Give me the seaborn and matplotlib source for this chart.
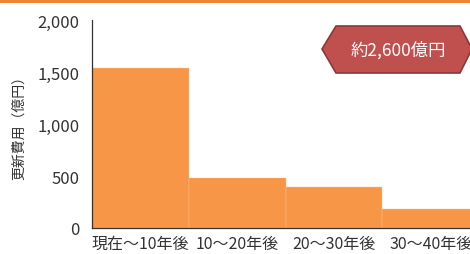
import matplotlib
matplotlib.use("Agg")
import matplotlib.pyplot as plt
import seaborn as sns
import pandas as pd
from matplotlib.patches import Polygon, Rectangle

periods = ["現在～10年後", "10～20年後", "20～30年後", "30～40年後"]
costs = [1540, 480, 395, 180]
yticks = [0, 500, 1000, 1500, 2000]
total_label = "約2,600億円"

sns.set_theme(style="white")
plt.rcParams["font.family"] = ["Noto Sans CJK JP", "DejaVu Sans"]

W, H = 470, 255
fig = plt.figure(figsize=(W / 100, H / 100), dpi=100)
fig.patch.set_facecolor("white")

# orange band across the top
fig.add_artist(Rectangle((0, 1 - 4 / H), 1, 4 / H, transform=fig.transFigure,
                         facecolor="#EE8535", edgecolor="none"))

ax = fig.add_axes([92 / W, 26 / H, 387 / W, 208 / H])
df = pd.DataFrame({"period": periods, "cost": costs})
sns.barplot(data=df, x="period", y="cost", ax=ax, color="#F79646", width=1.0,
            saturation=1, edgecolor="#FBC596", linewidth=0.3)

ax.set_xlim(-0.5, len(periods) - 0.5)
ax.set_ylim(0, 2000)
ax.set_yticks(yticks)
ax.set_yticklabels([f"{v:,}" for v in yticks], fontsize=12, color="#333333")
ax.set_xticks(range(len(periods)))
ax.set_xticklabels(periods, fontsize=11.5, color="#333333")
ax.set_xticks([i + 0.5 for i in range(len(periods) - 1)], minor=True)
ax.tick_params(axis="x", which="major", length=0, pad=5)
ax.tick_params(axis="x", which="minor", length=4, direction="in", width=0.8, color="#333333")
ax.tick_params(axis="y", length=4, direction="in", width=0.8, color="#333333", pad=9)
ax.set_xlabel("")
ax.set_ylabel("更新費用（億円）", fontsize=10, color="#333333", labelpad=8)
for s in ["top", "right"]:
    ax.spines[s].set_visible(False)
for s in ["left", "bottom"]:
    ax.spines[s].set_color("#333333")
    ax.spines[s].set_linewidth(0.9)

# hexagonal callout
pts = [(322, 50), (336, 27), (460, 27), (472, 50), (460, 74), (336, 74)]
poly = Polygon([(x / W, 1 - y / H) for x, y in pts], closed=True, transform=fig.transFigure,
               facecolor="#C0504D", edgecolor="#8C3836", linewidth=1.2)
fig.add_artist(poly)
fig.text(398 / W, 1 - 50 / H, total_label, color="white", fontsize=12.5,
         ha="center", va="center")

fig.savefig("out.png", dpi=100)
